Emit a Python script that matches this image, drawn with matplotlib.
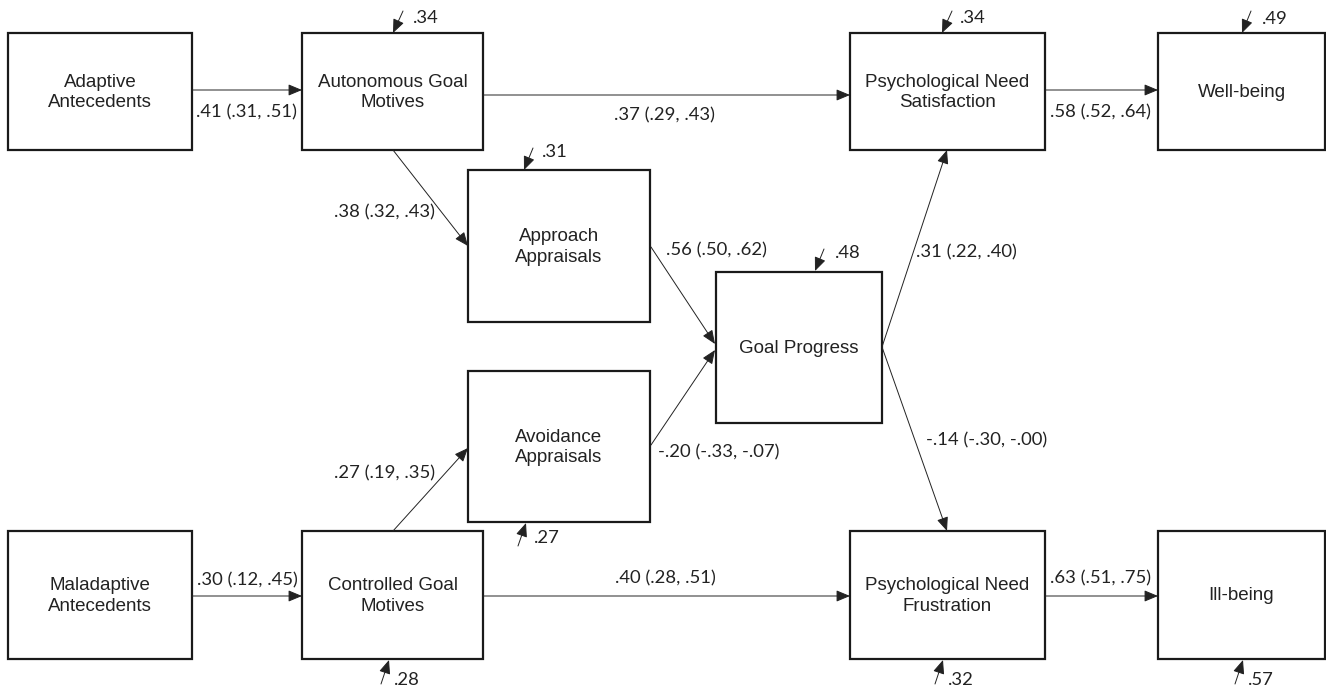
import matplotlib.pyplot as plt
from matplotlib.patches import Rectangle

# variables in the path model
node_keys = ['adapt', 'auto', 'appr', 'avoid', 'gp', 'pns', 'well',
             'malad', 'ctrl', 'pnf', 'ill']
node_labels = ['Adaptive\nAntecedents', 'Autonomous Goal\nMotives',
               'Approach\nAppraisals', 'Avoidance\nAppraisals', 'Goal Progress',
               'Psychological Need\nSatisfaction', 'Well-being',
               'Maladaptive\nAntecedents', 'Controlled Goal\nMotives',
               'Psychological Need\nFrustration', 'Ill-being']

# paths: from, to, coefficient (95% CI)
path_from = ['adapt', 'auto', 'pns', 'auto', 'appr', 'ctrl', 'avoid',
             'gp', 'gp', 'malad', 'ctrl', 'pnf']
path_to = ['auto', 'pns', 'well', 'appr', 'gp', 'avoid', 'gp',
           'pns', 'pnf', 'ctrl', 'pnf', 'ill']
path_labels = ['.41 (.31, .51)', '.37 (.29, .43)', '.58 (.52, .64)',
               '.38 (.32, .43)', '.56 (.50, .62)', '.27 (.19, .35)',
               '-.20 (-.33, -.07)', '.31 (.22, .40)', '-.14 (-.30, -.00)',
               '.30 (.12, .45)', '.40 (.28, .51)', '.63 (.51, .75)']

# residual / explained variance per endogenous variable
resid_nodes = ['auto', 'appr', 'gp', 'pns', 'well', 'avoid', 'ctrl', 'pnf', 'ill']
resid_labels = ['.34', '.31', '.48', '.34', '.49', '.27', '.28', '.32', '.57']

# ---- layout (pixel coords, y downwards) ----
boxes = {
    'adapt': (8, 33, 192, 150),
    'auto': (302, 33, 483, 150),
    'appr': (468, 170, 650, 322),
    'avoid': (468, 371, 650, 522),
    'gp': (716, 272, 882, 423),
    'pns': (850, 33, 1045, 150),
    'well': (1158, 33, 1325, 150),
    'malad': (8, 531, 192, 659),
    'ctrl': (302, 531, 483, 659),
    'pnf': (850, 531, 1045, 659),
    'ill': (1158, 531, 1325, 659),
}

path_geom = [  # start, end, label centre
    ((192, 90), (302, 90), (247, 112)),
    ((483, 95), (850, 95), (665, 115)),
    ((1045, 90), (1158, 90), (1101, 112)),
    ((393, 150), (468, 246), (385, 212)),
    ((651, 247), (715, 344), (717, 250)),
    ((393, 531), (468, 448), (385, 473)),
    ((651, 445), (715, 350), (719, 452)),
    ((882, 347), (947, 150), (966, 252)),
    ((882, 347), (947, 531), (987, 440)),
    ((192, 596), (302, 596), (247, 580)),
    ((483, 596), (850, 596), (665, 578)),
    ((1045, 596), (1158, 596), (1101, 578)),
]

resid_geom = [  # arrow start, arrow end, label left edge
    ((403, 11), (393, 33), (413, 18)),
    ((533, 148), (524, 170), (542, 152)),
    ((824, 249), (815, 271), (835, 253)),
    ((952, 11), (942, 33), (960, 18)),
    ((1251, 11), (1242, 33), (1262, 19)),
    ((518, 546), (526, 523), (534, 538)),
    ((381, 684), (389, 660), (394, 680)),
    ((935, 684), (943, 660), (948, 680)),
    ((1235, 684), (1243, 660), (1248, 680)),
]

box_font = 'Liberation Sans'
num_font = 'Lato'

fig = plt.figure(figsize=(13.26, 6.9), dpi=100)
ax = fig.add_axes([0, 0, 1, 1])
ax.set_xlim(0, 1326)
ax.set_ylim(690, 0)
ax.axis('off')

for key, label in zip(node_keys, node_labels):
    x0, y0, x1, y1 = boxes[key]
    ax.add_patch(Rectangle((x0, y0), x1 - x0, y1 - y0, fill=False,
                           edgecolor='#1a1a1a', linewidth=1.6))
    ax.text((x0 + x1) / 2, (y0 + y1) / 2 + 1, label, ha='center', va='center',
            fontsize=13.5, family=box_font, color='#222222', linespacing=1.25)

arrow_style = dict(arrowstyle='-|>,head_length=0.6,head_width=0.25',
                   color='#222222', lw=0.7, shrinkA=0, shrinkB=0,
                   mutation_scale=14)

for (s, e, lp), lab in zip(path_geom, path_labels):
    ax.annotate('', xy=e, xytext=s, arrowprops=arrow_style)
    ax.text(lp[0], lp[1], lab, ha='center', va='center', fontsize=13.3,
            family=num_font, color='#222222')

for (s, e, lp), lab in zip(resid_geom, resid_labels):
    ax.annotate('', xy=e, xytext=s, arrowprops=arrow_style)
    ax.text(lp[0], lp[1], lab, ha='left', va='center', fontsize=13.3,
            family=num_font, color='#222222')

fig.savefig('out.png', dpi=100)
